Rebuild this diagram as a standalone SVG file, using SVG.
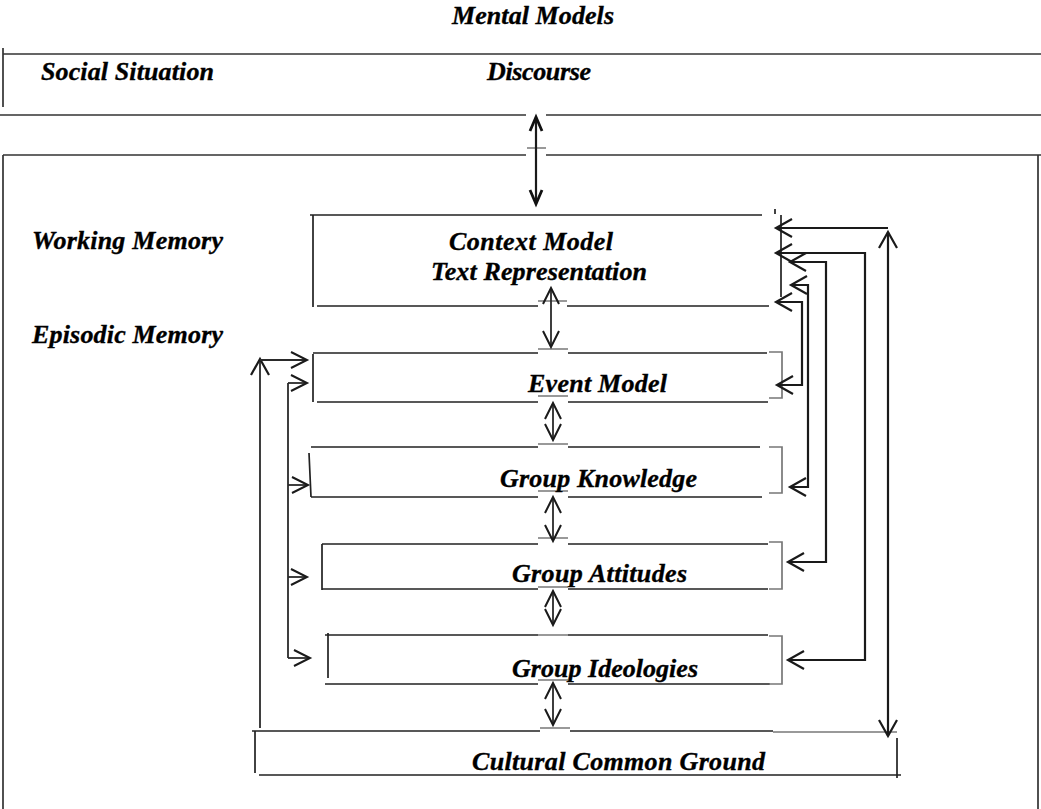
<svg xmlns="http://www.w3.org/2000/svg" width="1041" height="809" viewBox="0 0 1041 809">
  <style>
    .lbl { font-family: "Liberation Serif", "Times New Roman", serif; font-weight: bold; font-style: italic; font-size: 26px; fill: #000; stroke: #000; stroke-width: 0.35; }
    .edge { fill: none; stroke: #222; stroke-width: 1.7; }
    .frame { fill: none; stroke: #333; stroke-width: 1.7; }
    .mark { fill: none; stroke: #999; stroke-width: 2; }
    .bracket { fill: none; stroke: #777; stroke-width: 1.7; }
    .conn { fill: none; stroke: #1a1a1a; stroke-width: 2.2; }
    .conn-thin { fill: none; stroke: #2a2a2a; stroke-width: 1.8; }
  </style>
  <defs>
    <marker id="head" viewBox="-20 -12 24 24" markerWidth="24" markerHeight="24" refX="0" refY="0" markerUnits="userSpaceOnUse" orient="auto-start-reverse">
      <path d="M -16 -9 L 0 0 L -16 9" fill="none" stroke="#1a1a1a" stroke-width="2.2"/>
    </marker>
    <marker id="headS" viewBox="-20 -12 24 24" markerWidth="24" markerHeight="24" refX="0" refY="0" markerUnits="userSpaceOnUse" orient="auto-start-reverse">
      <path d="M -16 -8 L 0 0 L -16 8" fill="none" stroke="#1a1a1a" stroke-width="2"/>
    </marker>
    <marker id="headT" viewBox="-20 -12 24 24" markerWidth="24" markerHeight="24" refX="0" refY="0" markerUnits="userSpaceOnUse" orient="auto-start-reverse">
      <path d="M -14 -6 L 0 0 L -14 6" fill="none" stroke="#111" stroke-width="2.8"/>
    </marker>
  </defs>

  <rect x="0" y="0" width="1041" height="809" fill="#fff"/>

  <!-- title -->
  <g id="mental-models">
    <text class="lbl" x="452" y="24" textLength="162">Mental Models</text>
  </g>

  <!-- upper band: social situation and discourse -->
  <g id="social-band">
    <path class="frame" d="M 3 54 H 1041 M 3 48 V 107 M 0 115 H 526 M 546 115 H 1041"/>
    <text class="lbl" x="41" y="80" textLength="173">Social Situation</text>
  </g>
  <g id="discourse">
    <text class="lbl" x="487" y="80" textLength="104">Discourse</text>
  </g>

  <!-- large memory frame -->
  <g id="memory-frame">
    <path class="frame" d="M 3 155 H 526 M 546 155 H 1041 M 3 155 V 809 M 1038 155 V 809"/>
    <path class="mark" d="M 527 148 H 546"/>
  </g>

  <g id="working-memory">
    <text class="lbl" x="32" y="249" textLength="191">Working Memory</text>
  </g>
  <g id="episodic-memory">
    <text class="lbl" x="32" y="343" textLength="191">Episodic Memory</text>
  </g>

  <!-- context model / text representation -->
  <g id="context-model">
    <path class="edge" d="M 310 215 H 762 M 313 215 V 307 M 317 306 H 538 M 567 306 H 769 M 781 215 V 297 M 775 209 V 214"/>
    <path class="mark" d="M 538 301 H 567"/>
    <text class="lbl" x="449" y="250" textLength="164">Context Model</text>
    <text class="lbl" x="431" y="280" textLength="216">Text Representation</text>
  </g>

  <!-- event model -->
  <g id="event-model">
    <path class="edge" d="M 313 353 H 538 M 568 353 H 767 M 313 354 V 402 M 317 402 H 538 M 568 402 H 768"/>
    <path class="mark" d="M 538 349 H 568 M 538 396 H 568"/>
    <path class="bracket" d="M 769 352 H 782 V 398 H 769"/>
    <text class="lbl" x="528" y="392" textLength="139">Event Model</text>
  </g>

  <!-- group knowledge -->
  <g id="group-knowledge">
    <path class="edge" d="M 311 447 H 538 M 568 447 H 760 M 309 453 L 311 497 M 311 497 H 538 M 568 497 H 762"/>
    <path class="mark" d="M 538 444 H 568 M 538 491 H 568"/>
    <path class="bracket" d="M 769 447 H 782 V 493 H 769"/>
    <text class="lbl" x="500" y="487" textLength="197">Group Knowledge</text>
  </g>

  <!-- group attitudes -->
  <g id="group-attitudes">
    <path class="edge" d="M 322 544 H 538 M 568 544 H 768 M 322 544 V 590 M 322 589 H 538 M 568 589 H 768"/>
    <path class="mark" d="M 538 538 H 568 M 538 587 H 568"/>
    <path class="bracket" d="M 769 542 H 782 V 589 H 769"/>
    <text class="lbl" x="512" y="582" textLength="175">Group Attitudes</text>
  </g>

  <!-- group ideologies -->
  <g id="group-ideologies">
    <path class="edge" d="M 325 635 H 538 M 568 635 H 768 M 328 633 V 678 M 325 684 H 538 M 568 684 H 770"/>
    <path class="mark" d="M 538 635 H 568 M 538 680 H 568"/>
    <path class="bracket" d="M 769 636 H 782 V 684 H 769"/>
    <text class="lbl" x="512" y="677" textLength="186">Group Ideologies</text>
  </g>

  <!-- cultural common ground -->
  <g id="cultural-common-ground">
    <path class="edge" d="M 252 731 H 540 M 570 731 H 773 M 255 731 V 773 M 259 775 H 901 M 897 738 V 778"/>
    <path class="mark" d="M 540 728 H 570"/>
    <path class="bracket" d="M 773 732 H 897"/>
    <text class="lbl" x="472" y="770" textLength="293">Cultural Common Ground</text>
  </g>

  <!-- connectors -->
  <g id="connectors">
    <!-- discourse to working memory -->
    <path class="conn" d="M 536 117 V 204" stroke-width="2.8" marker-start="url(#headT)" marker-end="url(#headT)"/>

    <!-- vertical links between the memory stack -->
    <path class="conn-thin" d="M 551 288 V 347" marker-start="url(#headS)" marker-end="url(#headS)"/>
    <path class="conn-thin" d="M 553 403 V 440" marker-start="url(#headS)" marker-end="url(#headS)"/>
    <path class="conn-thin" d="M 553 497 V 541" marker-start="url(#headS)" marker-end="url(#headS)"/>
    <path class="conn-thin" d="M 553 591 V 625" marker-start="url(#headS)" marker-end="url(#headS)"/>
    <path class="conn-thin" d="M 553 683 V 725" marker-start="url(#headS)" marker-end="url(#headS)"/>

    <!-- right-hand feedback loops to the context model -->
    <path class="conn" d="M 888 228 H 776" marker-end="url(#head)"/>
    <path class="conn" d="M 888 232 V 736" marker-start="url(#head)" marker-end="url(#head)"/>
    <path class="conn" d="M 776 253 H 865 V 660 H 788" marker-start="url(#head)" marker-end="url(#head)"/>
    <path class="conn" d="M 790 262 H 826 V 562 H 788" marker-start="url(#head)" marker-end="url(#head)"/>
    <path class="conn" d="M 791 285 H 808 V 487 H 790" marker-start="url(#head)" marker-end="url(#head)"/>
    <path class="conn" d="M 776 302 H 802 V 385 H 777" marker-start="url(#head)" marker-end="url(#head)"/>

    <!-- left-hand links from cultural common ground -->
    <path class="conn-thin" d="M 260 728 V 359" marker-end="url(#head)"/>
    <path class="conn-thin" d="M 260 360 H 307" marker-end="url(#headS)"/>
    <path class="conn-thin" d="M 288 658 V 383"/>
    <path class="conn-thin" d="M 288 383 H 307" marker-end="url(#headS)"/>
    <path class="conn-thin" d="M 288 485 H 308" marker-end="url(#headS)"/>
    <path class="conn-thin" d="M 288 577 H 307" marker-end="url(#headS)"/>
    <path class="conn-thin" d="M 288 658 H 310" marker-end="url(#headS)"/>
  </g>
</svg>
